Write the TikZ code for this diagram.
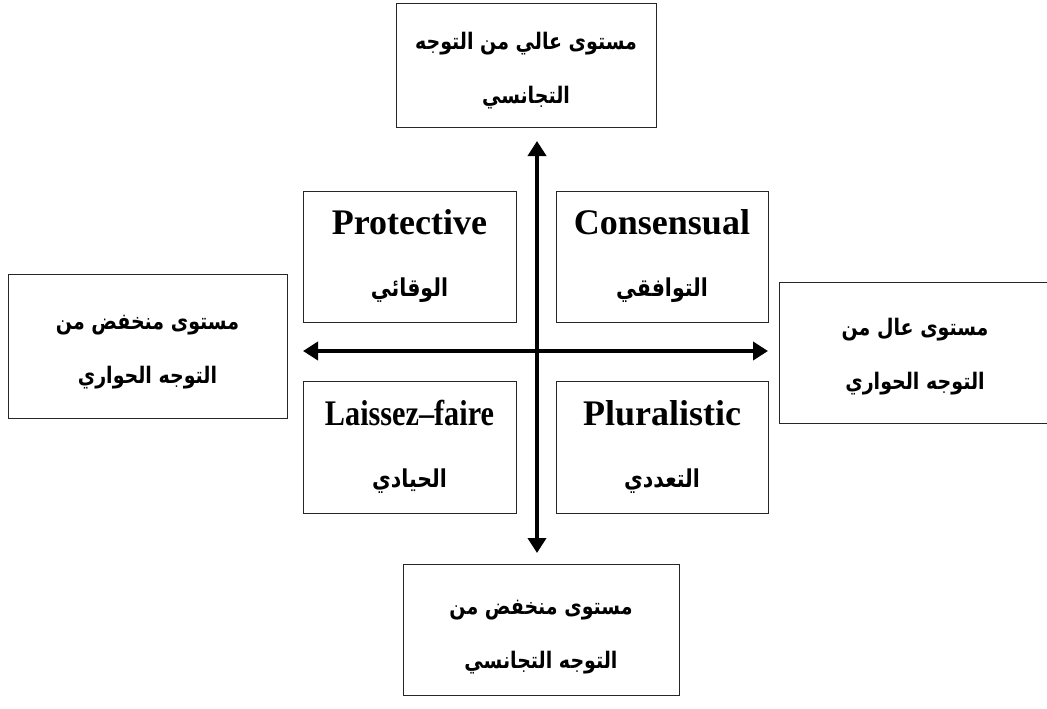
\documentclass[tikz,border=0pt]{standalone}
\usepackage{fontspec}
\setmainfont{Liberation Serif}
\newfontfamily\arabicfont[Script=Arabic]{DejaVu Sans}
\TeXXeTstate=1
\usetikzlibrary{arrows.meta}
\newcommand{\ar}[1]{{\arabicfont\bfseries\scalebox{1}[1.2]{\beginR #1\endR}}}
\newcommand{\en}[1]{{\bfseries\fontsize{36}{62}\selectfont #1}}
\begin{document}
\begin{tikzpicture}[x=1pt,y=-1pt,
  box/.style={draw=black!85, line width=1pt, inner sep=0pt},
  outertext/.style={align=center, inner sep=0pt, font=\fontsize{19}{54}\selectfont},
  quad/.style={box, align=center, minimum width=213pt, minimum height=131pt, font=\fontsize{20.5}{62}\selectfont},
  axis/.style={line width=4pt, {Triangle[length=15pt,width=18pt]}-{Triangle[length=15pt,width=18pt]}}]
\useasboundingbox (0,0) rectangle (1047,709);
\fill[white] (0,0) rectangle (1047,709);
% outer boxes
\node[box, minimum width=260pt, minimum height=123pt] (top) at (526,65.5) {};
\node[outertext] (top-t) at ([yshift=-5pt]top.center)
  {\ar{مستوى عالي من التوجه}\\\ar{التجانسي}};
\node[box, minimum width=279pt, minimum height=144pt] (left) at (147.5,346) {};
\node[outertext] (left-t) at ([yshift=-6pt]left.center)
  {\ar{مستوى منخفض من}\\\ar{التوجه الحواري}};
\node[box, minimum width=272pt, minimum height=141pt] (right) at (915,352.5) {};
\node[outertext] (right-t) at ([yshift=-4pt]right.center)
  {\ar{مستوى عال من}\\\ar{التوجه الحواري}};
\node[box, minimum width=276pt, minimum height=131pt] (bottom) at (541,629.5) {};
\node[outertext] (bottom-t) at ([yshift=-8pt]bottom.center)
  {\ar{مستوى منخفض من}\\\ar{التوجه التجانسي}};
% quadrants
\node[quad] (prot) at (409.5,256.5)
  {\en{Protective}\\\ar{الوقائي}};
\node[quad, minimum width=212pt] (cons) at (662,256.5)
  {\en{Consensual}\\\ar{التوافقي}};
\node[quad, minimum height=132pt] (lais) at (409.5,447)
  {\en{\scalebox{0.84}[1]{Laissez–faire}}\\\ar{الحيادي}};
\node[quad, minimum width=212pt, minimum height=132pt] (plur) at (662,447)
  {\en{Pluralistic}\\\ar{التعددي}};
% axes
\coordinate (vt) at (537,141);
\coordinate (vb) at (537,553);
\coordinate (hl) at (303,351);
\coordinate (hr) at (768,351);
\draw[axis] (vb) -- (vt);
\draw[axis] (hl) -- (hr);
\end{tikzpicture}
\end{document}
